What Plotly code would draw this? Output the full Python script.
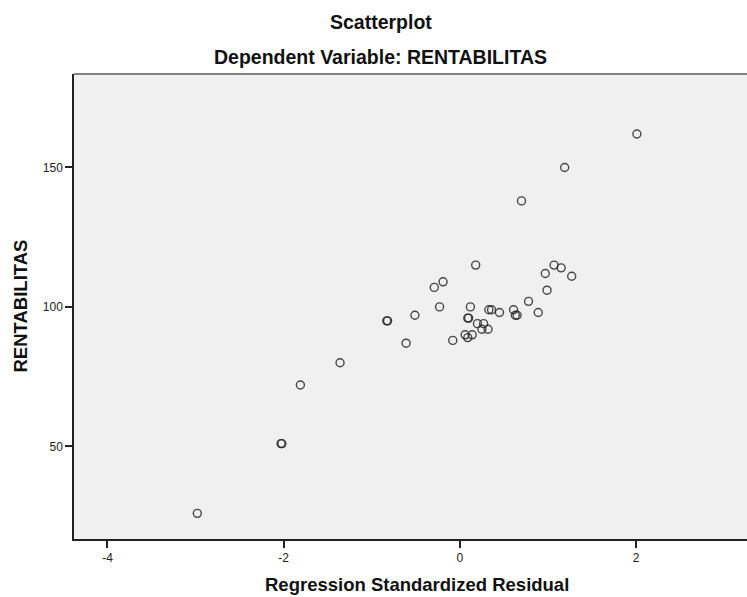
import plotly.graph_objects as go

# Regression standardized residual (x) vs RENTABILITAS (y)
residual = [2.01, 1.19, 0.70, 0.18, 1.07, 1.15, 0.97, 1.27, -0.19, -0.29, 0.99,
            -0.23, 0.12, 0.78, 0.33, 0.36, 0.45, 0.61, 0.63, 0.65, 0.89,
            -0.82, -0.83, -0.51, 0.09, 0.10, 0.20, 0.27, 0.25, 0.32,
            -0.61, -0.08, 0.06, 0.14, 0.09, -1.36, -1.81, -2.02, -2.03, -2.98]
rentabilitas = [162, 150, 138, 115, 115, 114, 112, 111, 109, 107, 106,
                100, 100, 102, 99, 99, 98, 99, 97, 97, 98,
                95, 95, 97, 96, 96, 94, 94, 92, 92,
                87, 88, 90, 90, 89, 80, 72, 51, 51, 26]

x_ticks = [-4, -2, 0, 2]
x_ticklabels = ["-4", "-2", "0", "2"]
y_ticks = [50, 100, 150]
x_range = [-4.38, 3.26]
y_range = [16.8, 183.5]

title_main = "Scatterplot"
title_sub = "Dependent Variable: RENTABILITAS"
x_title = "Regression Standardized Residual"
y_title = "RENTABILITAS"

font = "Liberation Sans, Arial, sans-serif"

fig = go.Figure()
fig.add_trace(go.Scatter(
    x=residual, y=rentabilitas, mode="markers",
    marker=dict(symbol="circle-open", size=8, color="rgba(40,40,40,0.85)",
                line=dict(width=1.4, color="rgba(40,40,40,0.85)")),
    hoverinfo="x+y", showlegend=False,
))

fig.update_layout(
    width=747, height=597,
    margin=dict(l=74, r=0, t=74, b=58),
    paper_bgcolor="white", plot_bgcolor="#F0F0F0",
    font=dict(family=font, size=12, color="#222"),
    xaxis=dict(range=x_range, tickvals=x_ticks, ticktext=x_ticklabels,
               ticks="outside", ticklen=7,
               tickwidth=1.5, tickcolor="#222", showgrid=False, zeroline=False,
               showline=True, linecolor="#222", linewidth=1.5,
               tickfont=dict(size=12, color="#222")),
    yaxis=dict(range=y_range, tickvals=y_ticks, ticks="outside", ticklen=7,
               tickwidth=1.5, tickcolor="#222", showgrid=False, zeroline=False,
               showline=True, linecolor="#222", linewidth=1.5,
               tickfont=dict(size=12, color="#222")),
    shapes=[dict(type="line", xref="paper", yref="paper", x0=0, x1=1, y0=1, y1=1,
                 line=dict(color="#808080", width=2))],
    annotations=[
        dict(text="<b>%s</b>" % title_main, xref="paper", yref="paper",
             x=0.456, y=1, yshift=52, yanchor="middle", xanchor="center",
             showarrow=False, font=dict(size=19.5, color="#111")),
        dict(text="<b>%s</b>" % title_sub, xref="paper", yref="paper",
             x=0.456, y=1, yshift=17, yanchor="middle", xanchor="center",
             showarrow=False, font=dict(size=19.5, color="#111")),
        dict(text="<b>%s</b>" % x_title, xref="paper", yref="paper",
             x=0.51, y=0, yshift=-45, yanchor="middle", xanchor="center",
             showarrow=False, font=dict(size=18.5, color="#111")),
        dict(text="<b>%s</b>" % y_title, xref="paper", yref="paper",
             x=0, xshift=-54, y=0.5, textangle=-90, yanchor="middle",
             xanchor="center", showarrow=False,
             font=dict(size=18.5, color="#111")),
    ],
)

fig.write_html("out.html")
